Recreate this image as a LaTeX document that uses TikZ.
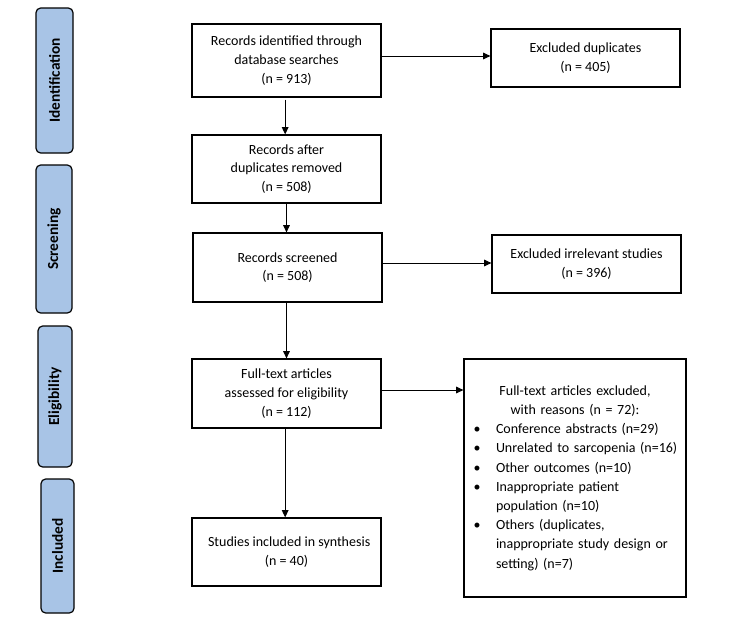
\documentclass[tikz,border=0pt]{standalone}
\usepackage{fontspec}
\setmainfont{Carlito}
\usetikzlibrary{arrows.meta}
\definecolor{sideblue}{RGB}{168,196,230}
\newcommand{\bul}{\makebox[14.25pt][l]{\hspace*{-2.5pt}\textbullet}}
\newcommand{\ind}{\hspace*{14.25pt}}
\newcommand{\ctr}[1]{\makebox[147pt][c]{#1}}
\begin{document}
\begin{tikzpicture}[x=0.75pt,y=-0.75pt,
  box/.style={draw=black,line width=0.9pt,align=center,inner sep=2pt,
    font=\fontsize{10.5pt}{14pt}\selectfont},
  side/.style={draw=black,line width=0.9pt,fill=sideblue,rounded corners=3.5pt,
    rotate=90,font=\fontsize{11.5pt}{14pt}\selectfont\bfseries,inner sep=0pt},
  arr/.style={draw=black,line width=0.7pt,-{Triangle[length=5.5pt,width=5pt]}}]
\useasboundingbox (0,0) rectangle (756,618);
% side labels
\node[side,minimum width=108.75pt,minimum height=27.75pt] (sid) at (54.5,80.5) {Identification};
\node[side,minimum width=111pt,minimum height=27pt] (ssc) at (54,239) {Screening};
\node[side,minimum width=105.75pt,minimum height=25.5pt] (sel) at (55,396.5) {Eligibility};
\node[side,minimum width=100.5pt,minimum height=24.75pt] (sin) at (57.5,546) {Included};
% main boxes
\node[box,minimum width=141.75pt,minimum height=54.75pt] (b1) at (286.5,60.5)
  {Records identified through\\database searches\\(n = 913)};
\node[box,minimum width=141.75pt,minimum height=51pt] (b2) at (286.5,169)
  {Records after\\duplicates removed\\(n = 508)};
\node[box,minimum width=141.75pt,minimum height=51.75pt] (b3) at (287.5,267.5)
  {Records screened\\(n = 508)};
\node[box,minimum width=141.75pt,minimum height=51.75pt] (b4) at (286.5,393.5)
  {Full-text articles\\assessed for eligibility\\(n = 112)};
\node[box,minimum width=141.75pt,minimum height=51pt] (b5) at (286.5,552)
  {\hspace*{4pt}Studies included in synthesis\\(n = 40)};
\node[box,minimum width=141.75pt,minimum height=43.5pt] (e1) at (585.5,58)
  {Excluded duplicates\\(n = 405)};
\node[box,minimum width=141.75pt,minimum height=43.5pt] (e2) at (586.5,264)
  {Excluded irrelevant studies\\(n = 396)};
\node[draw=black,line width=0.9pt,minimum width=166.5pt,minimum height=178.5pt,
  inner xsep=9.75pt,inner ysep=0pt,text width=147pt,align=left,
  font=\fontsize{10.5pt}{14.4pt}\selectfont] (e3) at (575,478)
  {\ctr{Full-text articles excluded,}\\
   \ctr{with reasons (n = 72):}\\
   \bul\mbox{Conference abstracts (n=29)}\\
   \bul\mbox{Unrelated to sarcopenia (n=16)}\\
   \bul\mbox{Other outcomes (n=10)}\\
   \bul\mbox{Inappropriate patient}\\
   \ind\mbox{population (n=10)}\\
   \bul\mbox{Others (duplicates,}\\
   \ind\mbox{inappropriate study design or}\\
   \ind\mbox{setting) (n=7)}};
% connectors
\coordinate (y1) at (0,56);
\coordinate (y2) at (0,263);
\coordinate (y3) at (0,390);
\draw[arr] (b1.east |- y1) -- (e1.west |- y1);
\draw[arr] (b3.east |- y2) -- (e2.west |- y2);
\draw[arr] (b4.east |- y3) -- (e3.west |- y3);
\draw[arr] ([xshift=-1pt,yshift=-1.5pt]b1.south) -- ([xshift=-1pt]b2.north);
\draw[arr] (b2.south) -- (b2.south |- b3.north);
\draw[arr] (b3.south -| b4.north) -- (b4.north);
\draw[arr] ([xshift=-1pt]b4.south) -- ([xshift=-1pt]b5.north);
\end{tikzpicture}
\end{document}
